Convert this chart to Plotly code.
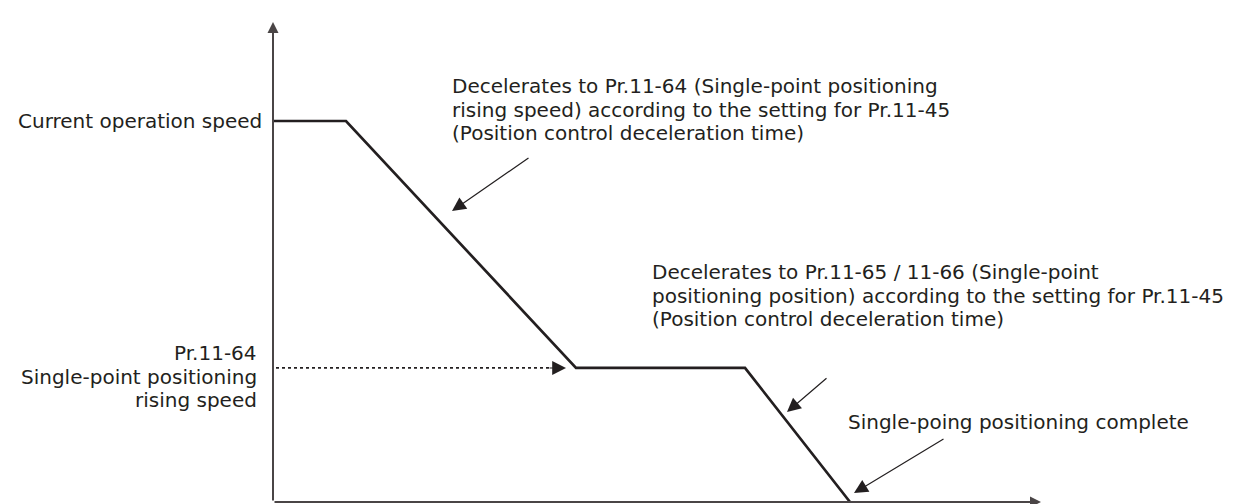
import plotly.graph_objects as go

# speed profile (time in arbitrary units, speed in % of current speed)
time_pts = [0, 7.3, 30.3, 47.2, 57.7]
speed_pts = [100, 100, 35.2, 35.2, 0]

rising_speed = 35.2
axis_x_end = 76.8
axis_y_end = 126.0

labels_top = [
    "Decelerates to Pr.11-64 (Single-point positioning",
    "rising speed) according to the setting for Pr.11-45",
    "(Position control deceleration time)",
]
labels_mid = [
    "Decelerates to Pr.11-65 / 11-66 (Single-point",
    "positioning position) according to the setting for Pr.11-45",
    "(Position control deceleration time)",
]
labels_left = ["Pr.11-64", "Single-point positioning", "rising speed"]
label_current = "Current operation speed"
label_complete = "Single-poing positioning complete"

INK = "#231f20"
AXIS = "#4a4546"
FONT = dict(family="DejaVu Sans, sans-serif", size=20, color=INK)
PITCH = 23.4

# page body has an 8px margin; plot area starts there
OFF = 8


# screen pixel -> data helpers (x: 10 px per unit from 273, y: 3.81 px per unit from 502)
def tx(px):
    return (px - 273) / 10.0


def vy(py):
    return (502 - py) / 3.81


fig = go.Figure()

fig.add_trace(
    go.Scatter(
        x=time_pts,
        y=speed_pts,
        mode="lines",
        line=dict(color=INK, width=2.7),
        hoverinfo="skip",
        showlegend=False,
    )
)

# dotted guide to the rising speed level
fig.add_trace(
    go.Scatter(
        x=[0.3, tx(552)],
        y=[rising_speed, rising_speed],
        mode="lines",
        line=dict(color=INK, width=1.8, dash="dot"),
        hoverinfo="skip",
        showlegend=False,
    )
)

annotations = []

# axes with arrows
annotations.append(dict(x=0, y=axis_y_end, ax=0, ay=0, xref="x", yref="y", axref="x", ayref="y",
                        showarrow=True, arrowhead=2, arrowsize=1.1, arrowwidth=2, arrowcolor=AXIS, text=""))
annotations.append(dict(x=axis_x_end, y=0, ax=0, ay=0, xref="x", yref="y", axref="x", ayref="y",
                        showarrow=True, arrowhead=2, arrowsize=1.1, arrowwidth=2, arrowcolor=AXIS, text=""))

# pointer arrows
pointers = [
    ((452, 211), (530, 157)),
    ((787, 412), (828, 377)),
    ((854, 493), (945, 438)),
    ((566, 368), (548, 368)),
]
for (hx, hy), (sx, sy) in pointers:
    annotations.append(dict(x=tx(hx), y=vy(hy), ax=tx(sx), ay=vy(sy), xref="x", yref="y",
                            axref="x", ayref="y", showarrow=True, arrowhead=2, arrowsize=2.3,
                            arrowwidth=1.2, arrowcolor=INK, text=""))


def add_lines(lines, px, mid_py, anchor):
    n = len(lines)
    for i, txt in enumerate(lines):
        py = mid_py + (i - (n - 1) / 2) * PITCH
        annotations.append(dict(x=tx(px), y=vy(py), xref="x", yref="y", text=txt, showarrow=False,
                                xanchor=anchor, yanchor="middle", font=FONT, borderpad=0))


add_lines(labels_top, 451, 109.5, "left")
add_lines(labels_mid, 651, 295.5, "left")
add_lines(labels_left, 258, 376.5, "right")
add_lines([label_current], 263, 121, "right")
add_lines([label_complete], 847, 422, "left")

fig.update_layout(
    width=1245,
    height=504,
    margin=dict(l=0, r=0, t=0, b=0),
    paper_bgcolor="white",
    plot_bgcolor="white",
    xaxis=dict(range=[tx(OFF), tx(1245 + OFF)], visible=False, fixedrange=True),
    yaxis=dict(range=[vy(504 + OFF), vy(OFF)], visible=False, fixedrange=True),
    annotations=annotations,
    showlegend=False,
)

fig.write_html("out.html")
